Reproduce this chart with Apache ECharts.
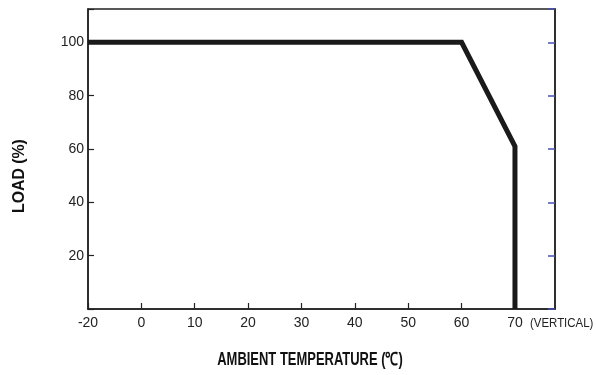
<!DOCTYPE html>
<html>
<head>
<meta charset="utf-8">
<script src="https://cdn.jsdelivr.net/npm/echarts@6/dist/echarts.min.js"></script>
<style>
  html, body { margin: 0; padding: 0; background: #fff; }
  #chart { width: 596px; height: 375px; }
</style>
</head>
<body>
<div id="chart"></div>
<script>
// derating curve
var tempX = [-20, 60, 70, 70];
var loadY = [100, 100, 61, 0];
var xTicks = [-20, 0, 10, 20, 30, 40, 50, 60, 70];
var yTicks = [20, 40, 60, 80, 100];

// the axis skips -20..-10, so -20 sits one step left of 0
function axisPos(t) {
  return t === -20 ? -10 : t;
}

var curve = [];
for (var i = 0; i < tempX.length; i++) {
  curve.push([axisPos(tempX[i]), loadY[i]]);
}

var font = '"Liberation Sans Narrow", "Liberation Sans", Arial, sans-serif';
var chart = echarts.init(document.getElementById('chart'));

chart.setOption({
  animation: false,
  backgroundColor: '#fff',
  grid: {
    left: 88,
    right: 41,
    top: 9,
    bottom: 66,
    show: true,
    borderColor: '#222',
    borderWidth: 1.5
  },
  xAxis: {
    type: 'value',
    min: -10,
    max: 77.5,
    interval: 10,
    splitLine: { show: false },
    axisLine: { onZero: false, lineStyle: { color: '#222', width: 1.5 } },
    axisTick: { inside: true, length: 6, lineStyle: { color: '#222', width: 1.2 } },
    axisLabel: {
      color: '#222',
      fontFamily: font,
      fontSize: 14,
      margin: 7,
      showMaxLabel: false,
      formatter: function (v) {
        var t = v === -10 ? -20 : v;
        return xTicks.indexOf(t) >= 0 ? String(t) : '';
      }
    }
  },
  yAxis: [
    {
      type: 'value',
      min: 0,
      max: 112.5,
      interval: 20,
      splitLine: { show: false },
      axisLine: { show: true, onZero: false, lineStyle: { color: '#222', width: 1.5 } },
      axisTick: { inside: true, length: 6, lineStyle: { color: '#222', width: 1.2 } },
      axisLabel: {
        color: '#222',
        fontFamily: font,
        fontSize: 14,
        margin: 4,
        formatter: function (v) {
          return yTicks.indexOf(v) >= 0 ? String(v) : '';
        }
      }
    },
    {
      type: 'value',
      position: 'right',
      min: 0,
      max: 112.5,
      interval: 20,
      splitLine: { show: false },
      axisLine: { show: true, onZero: false, lineStyle: { color: '#222', width: 1.5 } },
      axisTick: { inside: true, length: 7, lineStyle: { color: '#4b50b0', width: 1.5 } },
      axisLabel: { show: false }
    }
  ],
  graphic: [
    {
      type: 'text',
      x: 530,
      y: 323,
      scaleX: 0.88,
      style: { text: '(VERTICAL)', fill: '#222', font: '13px ' + font, verticalAlign: 'middle' }
    },
    {
      type: 'text',
      x: 310,
      y: 360,
      scaleX: 0.72,
      style: {
        text: 'AMBIENT TEMPERATURE (℃)',
        fill: '#111',
        font: 'bold 18px ' + font,
        align: 'center',
        verticalAlign: 'middle'
      }
    },
    {
      type: 'text',
      x: 19,
      y: 176,
      rotation: Math.PI / 2,
      scaleX: 0.93,
      style: {
        text: 'LOAD (%)',
        fill: '#111',
        font: 'bold 17px ' + font,
        align: 'center',
        verticalAlign: 'middle'
      }
    }
  ],
  series: [
    {
      type: 'line',
      data: curve,
      symbol: 'none',
      z: 5,
      lineStyle: { color: '#1a1a1a', width: 5, join: 'miter' }
    }
  ]
});
</script>
</body>
</html>
